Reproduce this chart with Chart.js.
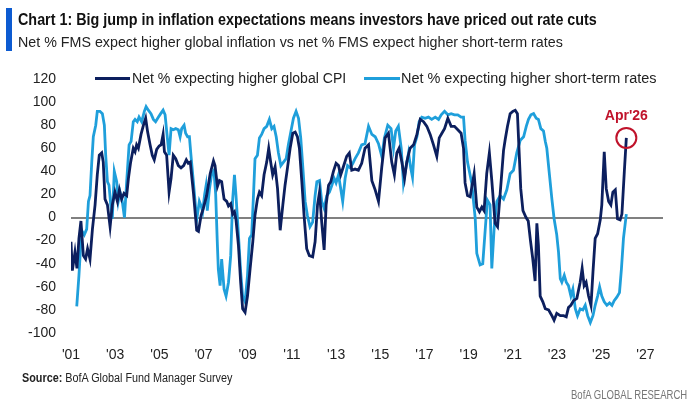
<!DOCTYPE html>
<html>
<head>
<meta charset="utf-8">
<script src="https://cdn.jsdelivr.net/npm/chart.js@4.4.1/dist/chart.umd.min.js"></script>
<style>
    html, body { margin: 0; padding: 0; background: #fff; }
    #wrap { position: relative; width: 693px; height: 411px; overflow: hidden; }
    #chart { position: absolute; left: 0; top: 0; }
    .txt { position: absolute; white-space: nowrap; transform-origin: left center; }
    #bar { position: absolute; left: 6px; top: 8px; width: 6px; height: 43px; background: #0d5bd1; }
    #title { left: 18px; top: 10px; font: bold 17px 'Liberation Sans', sans-serif; color: #111; }
    #subtitle { left: 18px; top: 33px; font: 15px 'Liberation Sans', sans-serif; color: #222; }
    .legline { position: absolute; height: 3px; top: 77px; }
    .legtxt { top: 70px; font: 14px 'Liberation Sans', sans-serif; color: #222; }
    #source { left: 22px; top: 371px; font: 12px 'Liberation Sans', sans-serif; color: #222; }
    #footer { left: 571px; top: 388px; font: 12px 'Liberation Sans', sans-serif; color: #777; }
</style>
</head>
<body>
<div id="wrap">
    <canvas id="chart" width="693" height="411"></canvas>
    <div id="bar"></div>
    <div id="title" class="txt" data-w="579">Chart 1: Big jump in inflation expectations means investors have priced out rate cuts</div>
    <div id="subtitle" class="txt" data-w="545">Net % FMS expect higher global inflation vs net % FMS expect higher short-term rates</div>
    <div class="legline" style="left:95px;width:35px;background:#0c1f5e"></div>
    <div class="txt legtxt" style="left:132px" data-w="214">Net % expecting higher global CPI</div>
    <div class="legline" style="left:364px;width:36px;background:#1f9fdb"></div>
    <div class="txt legtxt" style="left:401px" data-w="255">Net % expecting higher short-term rates</div>
    <div id="source" class="txt" data-w="210"><b>Source:</b> BofA Global Fund Manager Survey</div>
    <div id="footer" class="txt" data-w="116">BofA GLOBAL RESEARCH</div>
</div>
<script>
// Net % expecting higher global CPI (x = decimal year)
const cpiDates = [2001.0, 2001.06, 2001.18, 2001.27, 2001.36, 2001.45, 2001.56, 2001.66, 2001.75, 2001.86, 2001.97,
    2002.09, 2002.19, 2002.28, 2002.39, 2002.46, 2002.54, 2002.65, 2002.77, 2002.87, 2002.99,
    2003.1, 2003.19, 2003.29, 2003.4, 2003.52, 2003.6, 2003.7, 2003.82, 2003.9, 2003.97,
    2004.05, 2004.17, 2004.28, 2004.38, 2004.47, 2004.58, 2004.68, 2004.77, 2004.88, 2004.99,
    2005.08, 2005.17, 2005.23, 2005.33, 2005.44, 2005.53, 2005.63, 2005.74, 2005.86, 2005.98,
    2006.1, 2006.22, 2006.31, 2006.4, 2006.54, 2006.69, 2006.77, 2006.89, 2006.99,
    2007.14, 2007.3, 2007.45, 2007.52, 2007.63, 2007.72, 2007.82, 2007.93,
    2008.05, 2008.13, 2008.23, 2008.32, 2008.4, 2008.47, 2008.58, 2008.68, 2008.77, 2008.88, 2008.99,
    2009.11, 2009.23, 2009.33, 2009.44, 2009.53, 2009.63, 2009.74, 2009.86, 2009.95,
    2010.04, 2010.13, 2010.24, 2010.35, 2010.47, 2010.59, 2010.69, 2010.8, 2010.92,
    2011.04, 2011.15, 2011.25, 2011.34, 2011.45, 2011.55, 2011.67, 2011.79, 2011.94,
    2012.05, 2012.16, 2012.25, 2012.35, 2012.46, 2012.55, 2012.66, 2012.76, 2012.88,
    2013.0, 2013.11, 2013.21, 2013.33, 2013.48, 2013.6, 2013.71, 2013.86,
    2014.01, 2014.16, 2014.31, 2014.47, 2014.62, 2014.77, 2014.92,
    2015.07, 2015.22, 2015.37, 2015.52, 2015.64, 2015.75, 2015.85, 2015.98,
    2016.1, 2016.2, 2016.35, 2016.51, 2016.66, 2016.81, 2016.96,
    2017.11, 2017.26, 2017.41, 2017.56, 2017.67, 2017.79, 2017.91,
    2018.06, 2018.21, 2018.36, 2018.51, 2018.66, 2018.77, 2018.84, 2018.95,
    2019.07, 2019.25, 2019.37, 2019.49, 2019.6, 2019.7, 2019.82, 2019.94,
    2020.05, 2020.2, 2020.31, 2020.43, 2020.58, 2020.66, 2020.76, 2020.88,
    2021.0, 2021.11, 2021.21, 2021.28, 2021.36, 2021.46, 2021.6, 2021.7, 2021.8, 2021.9,
    2022.01, 2022.09, 2022.16, 2022.24, 2022.36, 2022.47, 2022.62, 2022.77, 2022.87, 2022.99,
    2023.15, 2023.3, 2023.42, 2023.52, 2023.63, 2023.75, 2023.9,
    2024.05, 2024.14, 2024.23, 2024.32, 2024.43, 2024.54, 2024.63, 2024.73, 2024.84, 2024.96,
    2025.03, 2025.14, 2025.23, 2025.34, 2025.44, 2025.53, 2025.64, 2025.74, 2025.86, 2025.94,
    2026.05, 2026.14];
const cpiValues = [-21, -46, -30, -44, -18, -3, -33, -36, -27, -36, -10,
    11, 37, 54, 56, 48, 16, 11, -8, 11, 22,
    14, 24, 16, 21, 19, 34, 48, 60, 57, 63,
    60, 72, 80, 86, 74, 63, 54, 50, 59, 62,
    63, 72, 57, 54, 22, 34, 54, 51, 45, 43,
    45, 50, 47, 48, 22, -11, -12, 2, 8,
    19, 38, 49, 45, 27, 32, 31, 16,
    14, 10, 12, 3, 5, -2, -24, -56, -79, -82, -68,
    -44, -21, 2, 16, 22, 19, 37, 48, 60,
    48, 37, 44, 25, -11, 11, 28, 43, 60,
    73, 74, 70, 60, 31, 2, -27, -33, -34,
    -21, 11, 22, -4, -28, 11, 28, 31, 40,
    47, 45, 37, 44, 53, 56, 41, 42,
    41, 47, 60, 63, 32, 24, 14,
    44, 69, 73, 48, 37, 56, 60, 48,
    34, 48, 60, 63, 72, 85, 83,
    79, 72, 63, 53, 69, 73, 77,
    86, 79, 79, 76, 73, 60, 30, 19,
    18, 38, 9, 5, 9, 6, 38, 56,
    32, -5, -8, 21, 58, 68, 79, 90,
    92, 93, 90, 60, 25, 6, 0, -3, -20, -35,
    -55, -5, -24, -68, -73, -79, -80, -85, -89, -83,
    -85, -85, -86, -78, -76, -72, -70,
    -56, -44, -59, -56, -68, -76, -47, -18, -14, -2,
    11, 57, 25, 14, 11, 22, 24, -1, -2, 3,
    40, 69];

// Net % expecting higher short-term rates
const rateDates = [2001.26, 2001.36, 2001.45, 2001.51, 2001.6, 2001.71, 2001.79, 2001.86, 2001.94,
    2002.01, 2002.12, 2002.19, 2002.31, 2002.42, 2002.51, 2002.57, 2002.65, 2002.72, 2002.8, 2002.87, 2002.96,
    2003.07, 2003.14, 2003.22, 2003.32, 2003.42, 2003.52, 2003.63, 2003.72, 2003.82, 2003.9,
    2004.0, 2004.08, 2004.2, 2004.32, 2004.4, 2004.5, 2004.62, 2004.73, 2004.83, 2004.96,
    2005.06, 2005.17, 2005.26, 2005.33, 2005.44, 2005.53, 2005.63, 2005.74, 2005.86, 2005.94,
    2006.01, 2006.12, 2006.19, 2006.28, 2006.36, 2006.43, 2006.54, 2006.69, 2006.81, 2006.89, 2006.96,
    2007.05, 2007.11, 2007.17, 2007.27, 2007.37, 2007.47, 2007.55, 2007.62, 2007.67, 2007.75, 2007.82, 2007.93,
    2008.02, 2008.13, 2008.23, 2008.32, 2008.4, 2008.47, 2008.58, 2008.68, 2008.77, 2008.88, 2008.99,
    2009.08, 2009.18, 2009.26, 2009.33, 2009.44, 2009.53, 2009.63, 2009.74, 2009.86, 2009.98,
    2010.09, 2010.19, 2010.29, 2010.39, 2010.5, 2010.62, 2010.74, 2010.84, 2010.95,
    2011.07, 2011.19, 2011.3, 2011.4, 2011.49, 2011.6, 2011.7, 2011.82, 2011.94,
    2012.05, 2012.13, 2012.25, 2012.35, 2012.46, 2012.58, 2012.7, 2012.81, 2012.91,
    2013.0, 2013.11, 2013.21, 2013.3, 2013.41, 2013.52, 2013.64, 2013.76, 2013.86,
    2014.01, 2014.16, 2014.31, 2014.47, 2014.62, 2014.77, 2014.92,
    2015.07, 2015.19, 2015.34, 2015.49, 2015.6, 2015.7, 2015.82, 2015.95,
    2016.05, 2016.16, 2016.28, 2016.38, 2016.46, 2016.55, 2016.66, 2016.76, 2016.88,
    2017.03, 2017.18, 2017.33, 2017.49, 2017.64, 2017.76, 2017.91,
    2018.06, 2018.21, 2018.36, 2018.51, 2018.66, 2018.77, 2018.84, 2018.95,
    2019.14, 2019.3, 2019.37, 2019.52, 2019.64, 2019.75, 2019.85, 2019.97,
    2020.05, 2020.16, 2020.28, 2020.43, 2020.58, 2020.73, 2020.88,
    2021.03, 2021.18, 2021.34, 2021.49, 2021.61, 2021.71, 2021.82, 2021.94,
    2022.06, 2022.16, 2022.27, 2022.39, 2022.47, 2022.54, 2022.66, 2022.77, 2022.87, 2022.99,
    2023.07, 2023.15, 2023.22, 2023.33, 2023.42, 2023.52, 2023.63, 2023.72, 2023.83, 2023.93,
    2024.05, 2024.17, 2024.28, 2024.39, 2024.51, 2024.63, 2024.73, 2024.84, 2024.93,
    2025.03, 2025.14, 2025.26, 2025.38, 2025.49, 2025.59, 2025.71, 2025.83, 2025.92,
    2026.01, 2026.14];
const rateValues = [-77, -50, -21, -12, -15, -10, 14, 19, 48,
    70, 80, 92, 92, 90, 80, 54, 31, 28, 11, -1, 40,
    31, 14, 22, 14, 0, 31, 63, 66, 83, 85,
    83, 87, 83, 92, 96, 93, 90, 85, 83, 87,
    90, 93, 89, 75, 54, 77, 76, 77, 76, 70,
    77, 80, 73, 70, 70, 54, 31, -2, 14, 10, 5,
    20, 27, 6, 25, 38, 41, 20, -20, -45, -59, -36, -62,
    -68, -56, -33, 16, 37, 19, -15, -47, -68, -73, -50,
    -18, -15, 19, 51, 54, 69, 72, 77, 79, 85,
    77, 79, 70, 56, 45, 48, 51, 63, 74,
    86, 92, 86, 69, 45, 14, 2, -8, -4,
    19, 31, 32, 14, 8, 19, 22, 28, 34,
    30, 37, 25, 14, 34, 45, 43, 47, 51,
    56, 63, 64, 79, 72, 70, 64,
    53, 69, 80, 77, 60, 75, 79, 60,
    30, 43, 56, 43, 35, 63, 70, 83, 87,
    86, 87, 85, 87, 85, 89, 92,
    89, 90, 89, 89, 87, 87, 67, 48,
    30, -1, -31, -41, -40, -11, 15, 11,
    -44, -8, 14, 19, 16, 24, 38,
    41, 56, 67, 70, 79, 85, 89, 90,
    86, 85, 77, 75, 66, 60, 37, 16, -1, -15,
    -30, -53, -56, -50, -56, -59, -68, -62, -79, -85,
    -79, -80, -76, -85, -91, -85, -76, -68, -60,
    -68, -73, -76, -74, -76, -72, -69, -65, -44,
    -18, 3];

const tickYears = [2001, 2003, 2005, 2007, 2009, 2011, 2013, 2015, 2017, 2019, 2021, 2023, 2025, 2027];
const calloutLabel = "Apr'26";

document.addEventListener('DOMContentLoaded', function() {
    // squeeze the html texts to the widths used in the original (condensed face)
    document.querySelectorAll('.txt[data-w]').forEach(function(el) {
        const w = parseFloat(el.dataset.w);
        el.style.transform = 'scaleX(' + (w / el.offsetWidth) + ')';
    });

    const ctx = document.getElementById('chart').getContext('2d');
    const toPoints = (xs, ys) => xs.map((x, i) => ({ x: x, y: ys[i] }));
    const lastCpi = cpiValues.length - 1;

    // label above the circled latest reading
    const calloutPlugin = {
        id: 'callout',
        afterDatasetsDraw(chart) {
            const pt = chart.getDatasetMeta(0).data[lastCpi];
            if (!pt) return;
            const c = chart.ctx;
            c.save();
            c.font = 'bold 14px "Liberation Sans", sans-serif';
            c.fillStyle = '#c0132b';
            c.textAlign = 'center';
            c.textBaseline = 'middle';
            c.fillText(calloutLabel, pt.x, pt.y - 22);
            c.restore();
        }
    };

    new Chart(ctx, {
        type: 'line',
        data: {
            datasets: [{
                label: 'Net % expecting higher global CPI',
                data: toPoints(cpiDates, cpiValues),
                borderColor: '#0c1f5e',
                borderWidth: 2.8,
                tension: 0,
                pointRadius: c => c.dataIndex === lastCpi ? 10 : 0,
                pointHoverRadius: c => c.dataIndex === lastCpi ? 10 : 0,
                pointBorderColor: '#c0132b',
                pointBackgroundColor: 'rgba(0,0,0,0)',
                pointBorderWidth: 2
            }, {
                label: 'Net % expecting higher short-term rates',
                data: toPoints(rateDates, rateValues),
                borderColor: '#1f9fdb',
                borderWidth: 2.8,
                tension: 0,
                pointRadius: 0
            }]
        },
        options: {
            responsive: false,
            animation: false,
            layout: { padding: { left: 0, right: 30, top: 79, bottom: 0 } },
            plugins: {
                legend: { display: false },
                tooltip: { enabled: false }
            },
            scales: {
                x: {
                    type: 'linear',
                    min: 2001,
                    max: 2027.8,
                    afterBuildTicks: s => { s.ticks = tickYears.map(v => ({ value: v })); },
                    afterFit: s => { s.height = 78; },
                    grid: { display: false },
                    border: { display: false },
                    ticks: {
                        padding: 6,
                        color: '#222',
                        font: { family: 'Liberation Sans', size: 14 },
                        callback: v => "'" + String(v).slice(2)
                    }
                },
                y: {
                    min: -100,
                    max: 120,
                    afterFit: s => { s.width = 71; },
                    border: { display: false },
                    grid: {
                        drawTicks: false,
                        lineWidth: 2,
                        color: c => c.tick && c.tick.value === 0 ? '#808080' : 'rgba(0,0,0,0)'
                    },
                    ticks: {
                        stepSize: 20,
                        padding: 15,
                        color: '#222',
                        font: { family: 'Liberation Sans', size: 14 }
                    }
                }
            }
        },
        plugins: [calloutPlugin]
    });
});
</script>
</body>
</html>
